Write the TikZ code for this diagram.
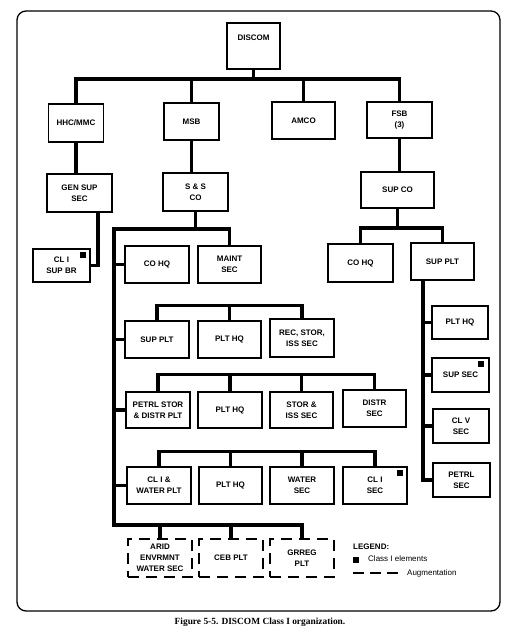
\documentclass[tikz,border=0pt]{standalone}
\usepackage{fontspec}
\setmainfont{Liberation Serif}
\setsansfont{Liberation Sans}
\begin{document}
\begin{tikzpicture}[x=1pt,y=-1pt,
 box/.style={draw,line width=1.3pt,font=\sffamily\bfseries\fontsize{8}{11}\selectfont,align=center,inner sep=1pt,minimum width=64pt,minimum height=37pt},
 dbox/.style={box,dash pattern=on 11pt off 7pt},
 conn/.style={line width=3.2pt},
 sq/.style={fill=black,inner sep=0pt,minimum size=6pt},
 legtext/.style={anchor=west,inner sep=0pt,font=\sffamily\fontsize{8}{9}\selectfont}]
\useasboundingbox (0,0) rectangle (517,631);
\draw[line width=1.3pt,rounded corners=9pt] (17,11) rectangle (500,611);
% top levels
\node[box,minimum width=53pt,minimum height=46pt,text depth=16pt] (discom) at (253.5,46) {DISCOM};
\node[box,minimum width=55pt,minimum height=38pt] (hhc) at (76,123) {HHC/MMC};
\node[box,minimum width=55pt] (msb) at (191.5,121.5) {MSB};
\node[box,minimum width=63pt] (amco) at (303.5,120.5) {AMCO};
\node[box,minimum width=65pt,minimum height=36pt] (fsb) at (399.5,120) {FSB\\(3)};
\node[box,minimum width=65pt,minimum height=38pt] (gensup) at (79.5,193) {GEN SUP\\SEC};
\node[box,minimum width=65pt,minimum height=38pt] (ss) at (195.5,192) {S \& S\\CO};
\node[box,minimum width=73pt,minimum height=36pt] (supco) at (397.5,190) {SUP CO};
\node[box,minimum width=57pt,minimum height=33pt] (clsup) at (61.5,265.5) {CL I\\SUP BR};
% S&S CO branch
\node[box] (cohqL) at (157,264.5) {CO HQ};
\node[box,minimum width=63pt] (maint) at (229.5,264.5) {MAINT\\SEC};
\node[box] (supL) at (157,339.5) {SUP PLT};
\node[box,minimum width=63pt] (plthqA) at (229.5,339.5) {PLT HQ};
\node[box,minimum height=38pt] (rec) at (302,338) {REC, STOR,\\ISS SEC};
\node[box,minimum height=36pt] (petrlL) at (158,410) {PETRL STOR\\\& DISTR PLT};
\node[box,minimum height=36pt] (plthqB) at (230,410) {PLT HQ};
\node[box,minimum width=63pt,minimum height=36pt] (stor) at (301.5,410) {STOR \&\\ISS SEC};
\node[box,minimum width=63pt] (distr) at (374.5,408.5) {DISTR\\SEC};
\node[box] (clwater) at (159,485.5) {CL I \&\\WATER PLT};
\node[box,minimum width=63pt] (plthqC) at (230.5,485.5) {PLT HQ};
\node[box] (water) at (302,485.5) {WATER\\SEC};
\node[box] (clsec) at (375,485.5) {CL I\\SEC};
\node[dbox,minimum height=38pt] (arid) at (160,558) {ARID\\ENVRMNT\\WATER SEC};
\node[dbox,minimum height=38pt] (ceb) at (231,558) {CEB PLT};
\node[dbox,minimum height=38pt] (grreg) at (302,558) {GRREG\\PLT};
% SUP CO branch
\node[box,minimum width=65pt,minimum height=38pt] (cohqR) at (360.5,263) {CO HQ};
\node[box,minimum width=63pt] (supR) at (442.5,261.5) {SUP PLT};
\node[box,minimum width=56pt,minimum height=33pt] (plthqR) at (460,322.5) {PLT HQ};
\node[box,minimum width=57pt,minimum height=34pt] (supsec) at (460.5,375) {SUP SEC};
\node[box,minimum width=56pt,minimum height=34pt] (clv) at (461,426) {CL V\\SEC};
\node[box,minimum width=57pt,minimum height=34pt] (petrlsec) at (461.5,480) {PETRL\\SEC};
% class I markers
\node[sq] (sq1) at (83,255) {};
\node[sq] (sq2) at (481,364) {};
\node[sq] (sq3) at (399.5,472.5) {};
% connectors
\coordinate (b1) at (258,79);
\draw[conn] (discom.south) -- (discom.south |- b1);
\draw[conn] (hhc.north) |- (b1) -| (fsb.north);
\draw[conn] (msb.north) -- (msb.north |- b1);
\draw[conn] (amco.north) -- (amco.north |- b1);
\draw[conn] (hhc.south) -- (gensup.north -| hhc.south);
\draw[conn] (msb.south) -- (ss.north -| msb.south);
\draw[conn] (fsb.south) -- (supco.north -| fsb.south);
\coordinate (gx) at (98,265.5);
\draw[conn] (gensup.south -| gx) |- (clsup.east);
\coordinate (sptop) at (114,229);
\coordinate (spbot) at (114,525);
\draw[conn] (maint.north) |- (sptop) -- (spbot) -| (grreg.north);
\draw[conn] (ss.south) -- (ss.south |- sptop);
\draw[conn] (arid.north) -- (arid.north |- spbot);
\draw[conn] (ceb.north) -- (ceb.north |- spbot);
\foreach \n in {cohqL,supL,petrlL,clwater} \draw[conn] (\n.west) -- (\n.west -| sptop);
\draw[conn] (supL.north) -- ++(0,-15) -| (rec.north);
\draw[conn] (plthqA.north) -- ++(0,-15);
\draw[conn] (petrlL.north) -- ++(0,-17) -| (distr.north);
\draw[conn] (plthqB.north) -- ++(0,-17);
\draw[conn] (stor.north) -- ++(0,-17);
\draw[conn] (clwater.north) -- ++(0,-15) -| (clsec.north);
\draw[conn] (plthqC.north) -- ++(0,-15);
\draw[conn] (water.north) -- ++(0,-15);
\coordinate (rb) at (400,228);
\draw[conn] (supco.south) -- (supco.south |- rb);
\draw[conn] (cohqR.north) |- (rb) -| (supR.north);
\coordinate (rsp) at (423,280);
\draw[conn] (supR.south -| rsp) |- (petrlsec.west);
\foreach \n in {plthqR,supsec,clv} \draw[conn] (\n.west) -- (\n.west -| rsp);
% legend
\node[legtext,font=\sffamily\bfseries\fontsize{8}{9}\selectfont] (leg) at (353,547) {LEGEND:};
\node[sq] (legsq) at (355.5,560) {};
\node[legtext] (legc) at (368,559) {Class I elements};
\coordinate (ld1) at (353,573);
\coordinate (ld2) at (398,573);
\draw[line width=1.2pt,dash pattern=on 11pt off 6pt] (ld1) -- (ld2);
\node[legtext] (lega) at (407,573) {Augmentation};
% caption
\node[font=\rmfamily\bfseries\fontsize{9.4}{11}\selectfont] (cap) at (260,622) {Figure 5-5. DISCOM Class I organization.};
\end{tikzpicture}
\end{document}
